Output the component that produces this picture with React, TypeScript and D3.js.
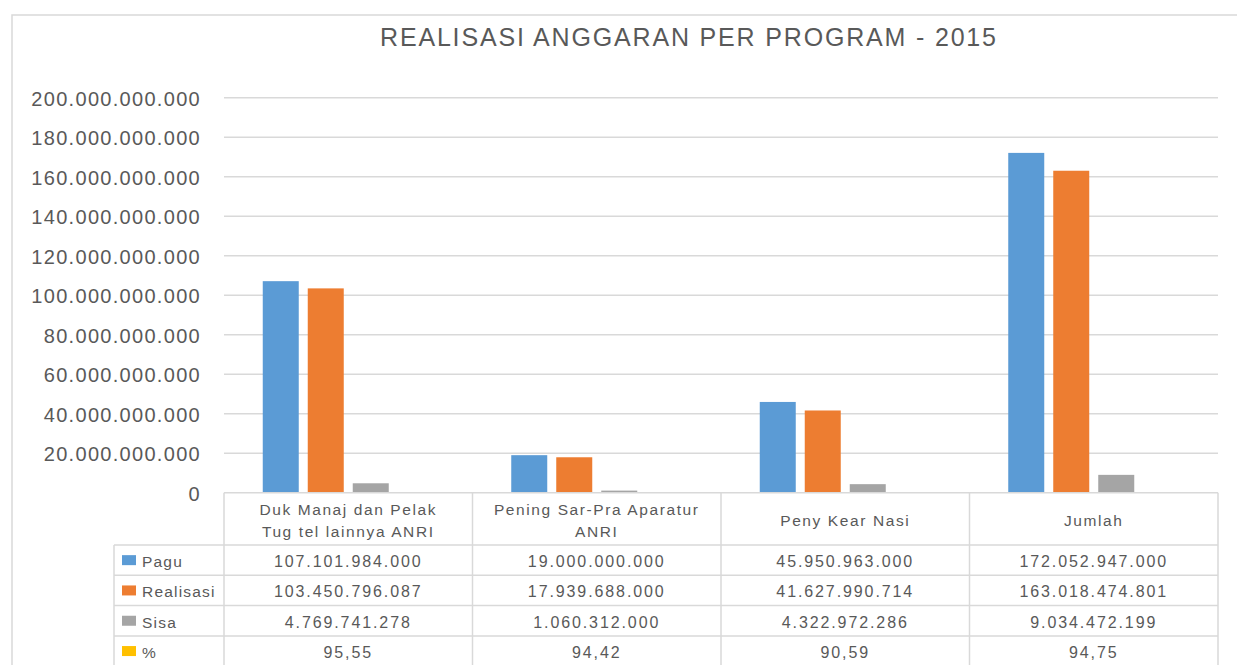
import React from "react";
import * as d3 from "d3";

const categories = [
  ["Duk Manaj dan Pelak", "Tug tel lainnya ANRI"],
  ["Pening Sar-Pra Aparatur", "ANRI"],
  ["Peny Kear Nasi"],
  ["Jumlah"],
];
const seriesNames = ["Pagu", "Realisasi", "Sisa", "%"];
const pagu = [107101984000, 19000000000, 45950963000, 172052947000];
const realisasi = [103450796087, 17939688000, 41627990714, 163018474801];
const sisa = [4769741278, 1060312000, 4322972286, 9034472199];
const persen = [95.55, 94.42, 90.59, 94.75];
const persenLabels = ["95,55", "94,42", "90,59", "94,75"];
const yTicks = [0, 20e9, 40e9, 60e9, 80e9, 100e9, 120e9, 140e9, 160e9, 180e9, 200e9];
const colors = ["#5B9BD5", "#ED7D31", "#A5A5A5", "#FFC000"];

const locale = d3.formatLocale({ decimal: ",", thousands: ".", grouping: [3], currency: ["", ""] });
const fmt = locale.format(",d");

export default function App() {
  const W = 1237, H = 665;
  const plotL = 224, plotR = 1218, plotT = 97.7, plotB = 492.7;
  const y = d3.scaleLinear().domain([0, 200e9]).range([plotB, plotT]);
  const x = d3.scaleBand<number>().domain(d3.range(categories.length)).range([plotL, plotR]).padding(0);
  const cw = x.bandwidth();
  const inner = d3
    .scaleBand<number>()
    .domain(d3.range(seriesNames.length))
    .range([(cw - 171) / 2, (cw + 171) / 2])
    .paddingInner(0.2)
    .paddingOuter(0);
  const series = [pagu, realisasi, sisa, persen];
  const textColor = "#595959";
  const gridColor = "#D9D9D9";
  const font = "'Liberation Sans', Arial, sans-serif";

  const headerTop = plotB;
  const headerBot = 545;
  const rowH = 30.3;
  const legendL = 114;
  const rowTops = d3.range(5).map((i) => headerBot + i * rowH);
  const rowLabels = series.map((s, si) => (si === 3 ? persenLabels : s.map((v) => fmt(v))));

  return (
    <svg width={W} height={H} style={{ position: "absolute", left: 0, top: 0, background: "#fff" }}>
      <rect x={12} y={15} width={1300} height={700} fill="#fff" stroke={gridColor} strokeWidth={1.5} />
      <text
        x={688}
        y={46}
        textAnchor="middle"
        fontFamily={font}
        fontSize={25}
        fill={textColor}
        textLength={616}
        lengthAdjust="spacing"
      >
        REALISASI ANGGARAN PER PROGRAM - 2015
      </text>
      {yTicks.map((t) => (
        <g key={t}>
          {t > 0 && <line x1={plotL} x2={plotR} y1={y(t)} y2={y(t)} stroke={gridColor} strokeWidth={1.5} />}
          <text
            x={201}
            y={y(t) + 8}
            textAnchor="end"
            fontFamily={font}
            fontSize={20}
            letterSpacing={1.3}
            fill={textColor}
          >
            {fmt(t)}
          </text>
        </g>
      ))}
      {series.map((s, si) =>
        s.map((v, ci) => (
          <rect
            key={`${si}-${ci}`}
            x={(x(ci) as number) + (inner(si) as number)}
            y={y(v)}
            width={inner.bandwidth()}
            height={Math.max(0, plotB - y(v))}
            fill={colors[si]}
          />
        ))
      )}
      {/* table */}
      <g stroke={gridColor} strokeWidth={1.5} fill="none">
        <line x1={plotL} x2={plotR} y1={headerTop} y2={headerTop} />
        {rowTops.map((ry, i) => (
          <line key={i} x1={legendL} x2={plotR} y1={ry} y2={ry} />
        ))}
        <line x1={legendL} x2={legendL} y1={headerBot} y2={H + 10} />
        {d3.range(categories.length + 1).map((i) => {
          const xx = i < categories.length ? (x(i) as number) : plotR;
          return <line key={i} x1={xx} x2={xx} y1={headerTop} y2={H + 10} />;
        })}
      </g>
      {categories.map((lines, ci) => {
        const cx = (x(ci) as number) + cw / 2;
        const midY = (headerTop + headerBot) / 2;
        return lines.map((ln, li) => (
          <text
            key={`${ci}-${li}`}
            x={cx}
            y={midY + (li - (lines.length - 1) / 2) * 21.5 + 7}
            textAnchor="middle"
            fontFamily={font}
            fontSize={15.5}
            letterSpacing={1.6}
            fill={textColor}
          >
            {ln}
          </text>
        ));
      })}
      {seriesNames.map((name, si) => {
        const ry = rowTops[si] + rowH / 2;
        return (
          <g key={name}>
            <rect x={122} y={ry - 5} width={14} height={10} fill={colors[si]} />
            <text x={142} y={ry + 7} fontFamily={font} fontSize={15.5} letterSpacing={1.2} fill={textColor}>
              {name}
            </text>
            {rowLabels[si].map((lab, ci) => (
              <text
                key={ci}
                x={(x(ci) as number) + cw / 2}
                y={ry + 7}
                textAnchor="middle"
                fontFamily={font}
                fontSize={16}
                letterSpacing={1.9}
                fill={textColor}
              >
                {lab}
              </text>
            ))}
          </g>
        );
      })}
    </svg>
  );
}
